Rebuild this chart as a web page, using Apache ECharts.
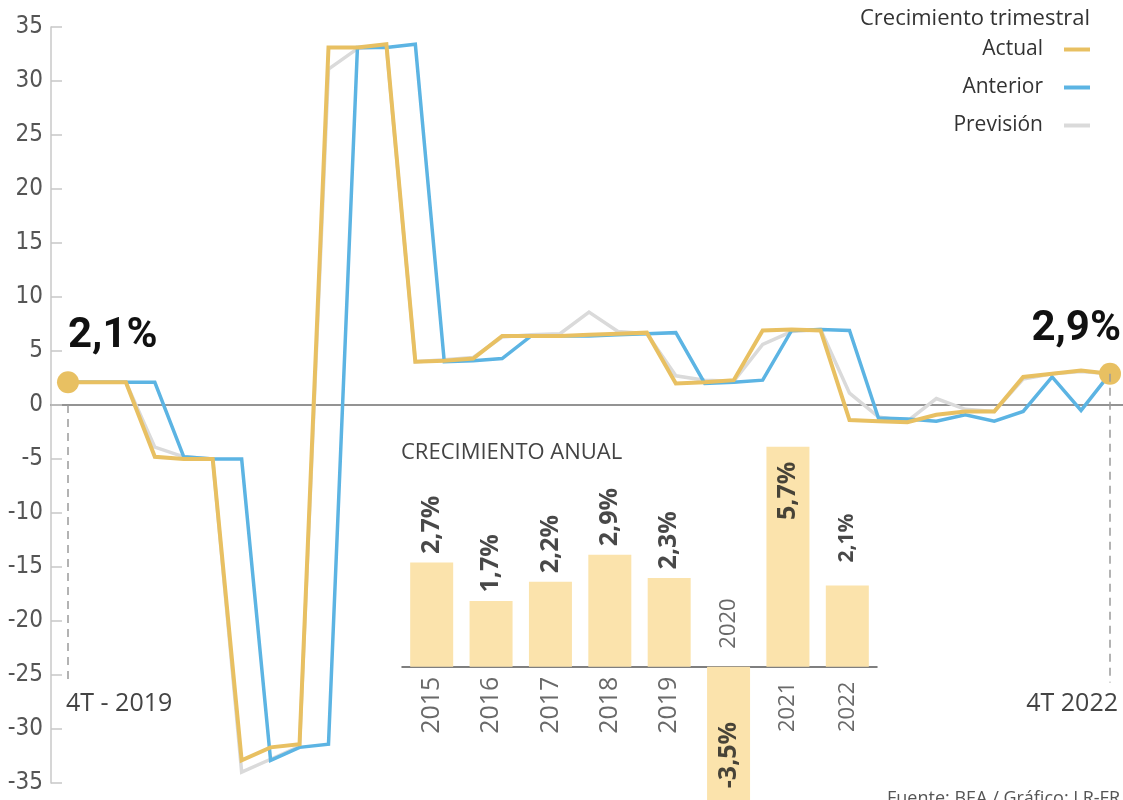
<!DOCTYPE html>
<html><head><meta charset="utf-8">
<script src="https://cdn.jsdelivr.net/npm/echarts@6/dist/echarts.min.js"></script>
<style>html,body{margin:0;padding:0;background:#fff}#c{width:1123px;height:800px}</style>
</head><body><div id="c"></div><script>
// Quarterly growth (monthly vintages), 4T-2019 .. 4T-2022
const actual    = [2.1,2.1,2.1,-4.8,-5.0,-5.0,-32.9,-31.7,-31.4,33.1,33.1,33.4,4.0,4.1,4.3,6.4,6.4,6.4,6.5,6.6,6.7,2.0,2.1,2.3,6.9,7.0,6.9,-1.4,-1.5,-1.6,-0.9,-0.6,-0.6,2.6,2.9,3.2,2.9];
const anterior  = [2.1,2.1,2.1,2.1,-4.8,-5.0,-5.0,-32.9,-31.7,-31.4,33.1,33.1,33.4,4.0,4.1,4.3,6.4,6.4,6.4,6.5,6.6,6.7,2.0,2.1,2.3,6.9,7.0,6.9,-1.2,-1.3,-1.5,-0.9,-1.5,-0.6,2.6,-0.5,2.9];
const prevision = [2.1,2.1,2.1,-3.9,-4.8,-5.0,-34.0,-32.8,-31.6,31.1,33.0,33.2,4.0,4.2,4.4,6.3,6.5,6.6,8.6,6.8,6.6,2.7,2.3,2.2,5.6,6.8,7.0,1.1,-1.1,-1.5,0.6,-0.4,-0.6,2.4,2.9,3.1,2.9];
const edgeLabels = ['4T - 2019', '4T 2022'];
const seriesNames = ['Actual', 'Anterior', 'Previsión'];
// Annual growth inset
const years  = ['2015','2016','2017','2018','2019','2020','2021','2022'];
const annual = [2.7, 1.7, 2.2, 2.9, 2.3, -3.5, 5.7, 2.1];

const fmt = v => v.toFixed(1).replace('.', ',') + '%';
const last = actual.length - 1;
const idx = actual.map((_, i) => i);
const pair = arr => arr.map((v, i) => [idx[i], v]);
const dropTo = -25.7;
const FN = "'DejaVu Sans Condensed', 'Roboto', sans-serif";
const FB = "'Roboto', 'DejaVu Sans Condensed', sans-serif";
const FO = "'Open Sans', 'Noto Sans', sans-serif";
const GOLD = '#E8C062', BLUE = '#5CB4E3', GREY = '#DADADA', BAR = '#FBE3AC';
const yearSize = [25,25,25,25,25,22,22,22];

const chart = echarts.init(document.getElementById('c'), null, {renderer: 'canvas'});
chart.setOption({
  animation: false,
  backgroundColor: '#fff',
  title: [
    {text: 'Crecimiento trimestral', right: 33, top: 8, padding: 0,
     textStyle: {fontFamily: FO, fontSize: 22, fontWeight: 'normal', color: '#333'}},
    {text: 'CRECIMIENTO ANUAL', left: 401, top: 442, padding: 0,
     textStyle: {fontFamily: FO, fontSize: 22, fontWeight: 'normal', color: '#444'}},
    {text: 'Fuente: BEA / Gráfico: LR-FR', right: 3, top: 790, padding: 0,
     textStyle: {fontFamily: FO, fontSize: 18, fontWeight: 'normal', color: '#555'}}
  ],
  legend: {
    orient: 'vertical', right: 33, top: 39, align: 'right', padding: 0,
    itemWidth: 26, itemHeight: 4, itemGap: 17, icon: 'rect', selectedMode: false,
    itemStyle: {borderWidth: 0},
    data: seriesNames,
    textStyle: {fontFamily: FO, fontSize: 21, color: '#333', padding: [0, 16, 0, 0]}
  },
  grid: [
    {left: 51, right: 0, top: 27, bottom: 17, containLabel: false, outerBoundsMode: 'none'},
    {left: 402, right: 246, top: 446.7, bottom: -1.7, containLabel: false, outerBoundsMode: 'none'}
  ],
  xAxis: [
    {gridIndex: 0, type: 'value', min: -0.587, max: last + 0.449,
     axisLine: {show: true, onZero: true, lineStyle: {color: '#707070', width: 1.5}},
     axisTick: {show: false}, axisLabel: {show: false}, splitLine: {show: false}},
    {gridIndex: 1, type: 'category', data: years, boundaryGap: true,
     axisLine: {show: true, onZero: true, lineStyle: {color: '#555', width: 1.5}},
     axisTick: {show: false}, axisLabel: {show: false}, splitLine: {show: false}}
  ],
  yAxis: [
    {gridIndex: 0, type: 'value', min: -35, max: 35, interval: 5,
     axisLine: {show: true, onZero: false, lineStyle: {color: '#c8c8c8', width: 1.5}},
     axisTick: {show: true, inside: true, length: 11, lineStyle: {color: '#c8c8c8', width: 1.5}},
     axisLabel: {margin: 8, fontFamily: FN, fontSize: 24, color: '#555'},
     splitLine: {show: false}},
    {gridIndex: 1, type: 'value', min: -3.5, max: 5.7, show: false, splitLine: {show: false}}
  ],
  series: [
    {name: seriesNames[2], type: 'line', xAxisIndex: 0, yAxisIndex: 0, z: 2,
     data: pair(prevision), showSymbol: false, symbol: 'none', silent: true,
     itemStyle: {color: GREY}, lineStyle: {color: GREY, width: 3.5, join: 'miter', miterLimit: 3}},
    {name: seriesNames[1], type: 'line', xAxisIndex: 0, yAxisIndex: 0, z: 3,
     data: pair(anterior), showSymbol: false, symbol: 'none', silent: true,
     itemStyle: {color: BLUE}, lineStyle: {color: BLUE, width: 3.5, join: 'miter', miterLimit: 3}},
    {name: seriesNames[0], type: 'line', xAxisIndex: 0, yAxisIndex: 0, z: 4,
     symbol: 'circle', showSymbol: true, silent: true,
     itemStyle: {color: GOLD}, lineStyle: {color: GOLD, width: 4, join: 'miter', miterLimit: 3},
     data: actual.map((v, i) => {
       const edge = i === 0 || i === last;
       return {
         value: [idx[i], v],
         symbolSize: edge ? 22 : 0,
         label: edge ? {
           show: true, formatter: fmt(v), position: 'top',
           distance: i === 0 ? 14 : 12, align: i === 0 ? 'left' : 'right',
           offset: i === 0 ? [0, 0] : [11, 0],
           fontFamily: FB, fontWeight: 'bold', fontSize: 42, color: '#111'
         } : {show: false}
       };
     }),
     markLine: {
       silent: true, symbol: ['none', 'none'], animation: false,
       lineStyle: {color: '#9a9a9a', width: 1.5, type: [8, 6]},
       label: {show: true, position: 'end', distance: 9, fontFamily: FO, fontSize: 25, color: '#444'},
       emphasis: {disabled: true},
       data: [
         [{coord: [idx[0], 0], label: {formatter: edgeLabels[0], align: 'left', padding: [0, 0, 0, -2]}}, {coord: [idx[0], dropTo]}],
         [{coord: [idx[last], actual[last]], label: {formatter: edgeLabels[1], align: 'right', padding: [0, -8, 0, 0]}}, {coord: [idx[last], dropTo]}]
       ]
     }},
    {type: 'bar', xAxisIndex: 1, yAxisIndex: 1, data: annual, barWidth: 43, silent: true,
     itemStyle: {color: BAR}},
    {type: 'scatter', xAxisIndex: 1, yAxisIndex: 1, symbolSize: 0, silent: true, z: 5,
     itemStyle: {color: 'rgba(0,0,0,0)'},
     label: {show: true, rotate: 90, position: 'bottom', distance: 10, align: 'right', verticalAlign: 'middle',
             fontFamily: FO, fontSize: 25, color: '#444', formatter: p => years[p.dataIndex]},
     data: annual.map((v, i) => ({
       value: 0,
       label: v < 0 ? {position: 'top', distance: 18, align: 'left', fontSize: yearSize[i]}
                    : {fontSize: yearSize[i], distance: yearSize[i] < 25 ? 15 : 10}
     }))},
    {type: 'scatter', xAxisIndex: 1, yAxisIndex: 1, symbolSize: 0, silent: true, z: 5,
     itemStyle: {color: 'rgba(0,0,0,0)'},
     label: {show: true, rotate: 90, position: 'top', distance: 8.5, align: 'left', verticalAlign: 'middle',
             fontFamily: FO, fontSize: 25, fontWeight: 'bold', color: '#1a1a1a', formatter: p => fmt(annual[p.dataIndex])},
     data: annual.map((v, i) => {
       const isMax = v === Math.max(...annual);
       if (isMax) return {value: v, label: {position: 'bottom', distance: 15, align: 'right'}};
       if (v < 0) return {value: v, label: {distance: 13.5}};
       if (i === annual.length - 1) return {value: v, label: {distance: 23, fontSize: 21}};
       return {value: v};
     })}
  ]
});
</script></body></html>
